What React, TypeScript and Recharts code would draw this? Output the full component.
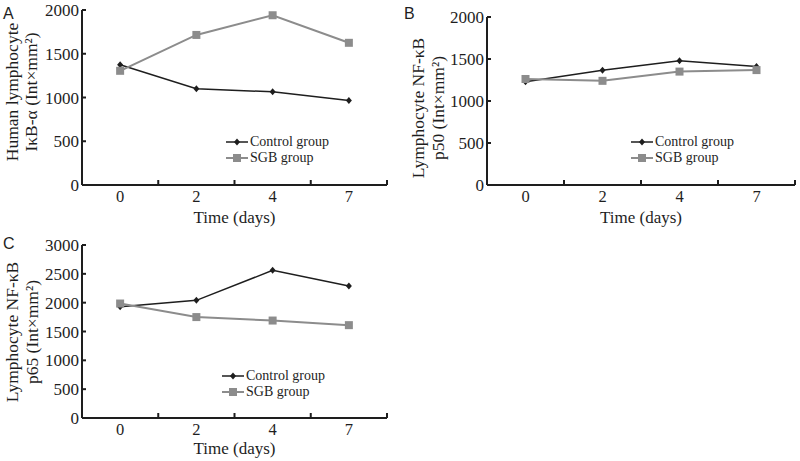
import { LineChart, Line, XAxis, YAxis, Legend } from 'recharts'

const days = ['0', '2', '4', '7']

// panel A: IκB-α
const ikbControl = [1375, 1100, 1065, 965]
const ikbSgb = [1305, 1715, 1940, 1625]

// panel B: NF-κB p50
const p50Control = [1228, 1365, 1480, 1412]
const p50Sgb = [1262, 1240, 1350, 1368]

// panel C: NF-κB p65
const p65Control = [1930, 2040, 2560, 2290]
const p65Sgb = [1985, 1750, 1690, 1610]

const ticks2000 = [0, 500, 1000, 1500, 2000]
const ticks3000 = [0, 500, 1000, 1500, 2000, 2500, 3000]

const SERIF = '"Liberation Serif", "Times New Roman", serif'
const SANS = '"Liberation Sans", Arial, sans-serif'
const DARK = '#1e1e1e'
const GRAY = '#8c8c8c'

const buildRows = (control: number[], sgb: number[]) =>
  days.map((d, i) => ({ pos: i, day: d, control: control[i], sgb: sgb[i] }))

function XTick(props: any) {
  const { x, y, payload } = props
  const v = payload.value
  if (Number.isInteger(v)) {
    return (
      <text x={x} y={y + 17} textAnchor="middle" fontSize={16.5} fill={DARK} fontFamily={SERIF}>
        {days[v]}
      </text>
    )
  }
  return <line x1={x} x2={x} y1={y} y2={y - 5} stroke={DARK} strokeWidth={2} />
}

function YTick(props: any) {
  const { x, y, payload } = props
  return (
    <g>
      <line x1={x} x2={x + 4} y1={y} y2={y} stroke={DARK} strokeWidth={2} />
      <text x={x - 3} y={y + 6} textAnchor="end" fontSize={17} fill={DARK} fontFamily={SERIF}>
        {payload.value}
      </text>
    </g>
  )
}

function Diamond(props: any) {
  const { cx, cy, index } = props
  return (
    <path key={index} d={`M${cx},${cy - 3.5}L${cx + 3},${cy}L${cx},${cy + 3.5}L${cx - 3},${cy}Z`} fill={DARK} />
  )
}

function Square(props: any) {
  const { cx, cy, index } = props
  return <rect key={index} x={cx - 4} y={cy - 4} width={8} height={8} fill={GRAY} />
}

function LegendBox() {
  const items = [
    { name: 'Control group', color: DARK, shape: 'diamond' },
    { name: 'SGB group', color: GRAY, shape: 'square' },
  ]
  return (
    <div style={{ fontFamily: SERIF, fontSize: 14, color: DARK, lineHeight: '16px' }}>
      {items.map((it) => (
        <div key={it.name} style={{ display: 'flex', alignItems: 'center', height: 16 }}>
          <svg width={22} height={10} style={{ marginRight: 2 }}>
            <line x1={0} x2={22} y1={5} y2={5} stroke={it.color} strokeWidth={it.shape === 'square' ? 2 : 1.5} />
            {it.shape === 'diamond' ? (
              <path d="M11,1.5L14,5L11,8.5L8,5Z" fill={it.color} />
            ) : (
              <rect x={7} y={1} width={8} height={8} fill={it.color} />
            )}
          </svg>
          <span>{it.name}</span>
        </div>
      ))}
    </div>
  )
}

interface PanelProps {
  left: number
  top: number
  width: number
  height: number
  margin: { top: number; right: number; bottom: number; left: number }
  yAxisWidth: number
  xAxisHeight: number
  yMax: number
  yTicks: number[]
  rows: { pos: number; day: string; control: number; sgb: number }[]
  yLabel: [string, string]
  yLabelX: [number, number]
  yLabelY: number
  xLabelY: number
  legendPos: { left: number; top: number }
  letter: string
  letterPos: { left: number; top: number }
}

function Panel(p: PanelProps) {
  const plotLeft = p.margin.left + p.yAxisWidth
  const plotRight = p.width - p.margin.right
  const xCenter = (plotLeft + plotRight) / 2
  return (
    <div style={{ position: 'absolute', left: p.left, top: p.top, width: p.width, height: p.height }}>
      <LineChart width={p.width} height={p.height} data={p.rows} margin={p.margin}>
        <XAxis
          dataKey="pos"
          type="number"
          domain={[-0.5, 3.5]}
          ticks={[0, 0.5, 1, 1.5, 2, 2.5, 3, 3.5]}
          interval={0}
          height={p.xAxisHeight}
          tickSize={0}
          tickMargin={0}
          tickLine={false}
          axisLine={{ stroke: DARK, strokeWidth: 2 }}
          tick={<XTick />}
          label={{
            content: () => (
              <text x={xCenter} y={p.xLabelY} textAnchor="middle" fontSize={17} fill={DARK} fontFamily={SERIF}>
                Time (days)
              </text>
            ),
          }}
        />
        <YAxis
          type="number"
          domain={[0, p.yMax]}
          ticks={p.yTicks}
          interval={0}
          width={p.yAxisWidth}
          tickSize={0}
          tickMargin={0}
          tickLine={false}
          axisLine={{ stroke: DARK, strokeWidth: 2 }}
          tick={<YTick />}
          label={{
            content: () => (
              <g fontFamily={SERIF} fontSize={17.5} fill={DARK}>
                {p.yLabel.map((line, i) => (
                  <text
                    key={line}
                    x={p.yLabelX[i]}
                    y={p.yLabelY}
                    textAnchor="middle"
                    dominantBaseline="central"
                    transform={`rotate(-90, ${p.yLabelX[i]}, ${p.yLabelY})`}
                  >
                    {line}
                  </text>
                ))}
              </g>
            ),
          }}
        />
        <Legend
          layout="vertical"
          align="center"
          verticalAlign="middle"
          content={() => <LegendBox />}
          wrapperStyle={{ left: p.legendPos.left, top: p.legendPos.top, width: 'auto' }}
        />
        <Line
          dataKey="control"
          name="Control group"
          stroke={DARK}
          strokeWidth={1.5}
          dot={<Diamond />}
          activeDot={false}
          isAnimationActive={false}
        />
        <Line
          dataKey="sgb"
          name="SGB group"
          stroke={GRAY}
          strokeWidth={2}
          dot={<Square />}
          activeDot={false}
          isAnimationActive={false}
        />
      </LineChart>
      <div
        style={{
          position: 'absolute',
          left: p.letterPos.left,
          top: p.letterPos.top,
          fontFamily: SANS,
          fontSize: 16,
          color: DARK,
          lineHeight: '16px',
        }}
      >
        {p.letter}
      </div>
    </div>
  )
}

export default function App() {
  return (
    <div style={{ position: 'absolute', left: 0, top: 0, width: 800, height: 461, background: '#fff', overflow: 'hidden' }}>
      <Panel
        left={0}
        top={0}
        width={400}
        height={230}
        margin={{ top: 10, right: 13, bottom: 0, left: 0 }}
        yAxisWidth={82}
        xAxisHeight={45}
        yMax={2000}
        yTicks={ticks2000}
        rows={buildRows(ikbControl, ikbSgb)}
        yLabel={['Human lymphocyte', 'IκB-α (Int×mm²)']}
        yLabelX={[12, 31]}
        yLabelY={92}
        xLabelY={223}
        legendPos={{ left: 226, top: 134 }}
        letter="A"
        letterPos={{ left: 3, top: 6 }}
      />
      <Panel
        left={400}
        top={0}
        width={400}
        height={230}
        margin={{ top: 17, right: 5, bottom: 0, left: 0 }}
        yAxisWidth={87}
        xAxisHeight={45}
        yMax={2000}
        yTicks={ticks2000}
        rows={buildRows(p50Control, p50Sgb)}
        yLabel={['Lymphocyte NF-κB', 'p50 (Int×mm²)']}
        yLabelX={[18, 38]}
        yLabelY={108}
        xLabelY={223}
        legendPos={{ left: 231, top: 134 }}
        letter="B"
        letterPos={{ left: 4, top: 6 }}
      />
      <Panel
        left={0}
        top={230}
        width={400}
        height={231}
        margin={{ top: 15, right: 13, bottom: 0, left: 0 }}
        yAxisWidth={82}
        xAxisHeight={43}
        yMax={3000}
        yTicks={ticks3000}
        rows={buildRows(p65Control, p65Sgb)}
        yLabel={['Lymphocyte NF-κB', 'p65 (Int×mm²)']}
        yLabelX={[12, 32]}
        yLabelY={102}
        xLabelY={224}
        legendPos={{ left: 222, top: 138 }}
        letter="C"
        letterPos={{ left: 3, top: 6 }}
      />
    </div>
  )
}
